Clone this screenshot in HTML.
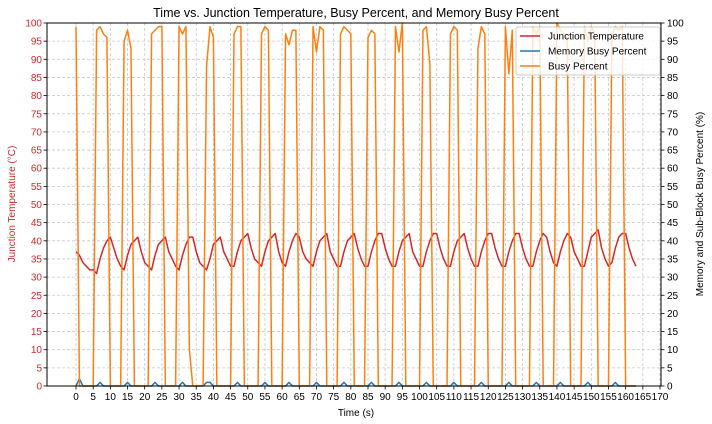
<!DOCTYPE html>
<html><head><meta charset="utf-8"><style>
body{margin:0;background:#fff;}
svg{display:block;font-family:"Liberation Sans","DejaVu Sans",sans-serif;}
</style></head><body>
<svg id="chart" width="712" height="424"></svg>
<script>
const temperature = [37,36,34,33,32,32,
31,35,38,40,41,38,35,33,
32,36,39,40,41,37,34,33,
32,36,39,40,41,37,35,33,
32,36,39,41,41,37,34,33,
32,35,39,40,41,37,35,33,
33,37,40,41,42,38,35,34,
33,37,40,41,42,37,34,
33,37,40,42,41,37,35,34,
33,37,40,41,42,37,35,33,
33,37,40,41,42,38,35,33,
33,37,40,42,42,38,35,33,
33,37,40,41,42,37,35,33,
33,37,40,42,42,38,35,33,
33,37,40,41,42,38,35,33,
33,37,40,42,42,38,35,33,
33,37,40,42,42,38,35,33,
33,37,40,42,41,37,34,
33,37,40,42,41,37,35,33,
33,37,41,42,43,38,35,33,
34,38,41,42,42,38,35,33];
const busy = [99,0,0,0,0,0,
98,99,97,96,0,0,0,0,
95,98,93,0,0,0,0,0,
97,98,99,99,0,0,0,0,
99,97,99,10,0,0,0,0,
88,99,96,0,0,0,0,0,
97,99,99,0,0,0,0,0,
97,99,98,0,0,0,0,
97,94,98,98,0,0,0,0,
99,92,99,98,0,0,0,0,
97,99,98,97,0,0,0,0,
96,98,97,0,0,0,0,0,
99,92,100,0,0,0,0,0,
98,99,89,0,0,0,0,0,
97,99,98,0,0,0,0,0,
93,99,97,0,0,0,0,0,
99,86,98,0,0,0,0,0,
99,97,99,0,0,0,0,
100,98,97,96,0,0,0,0,
99,95,99,97,0,0,0,0,
97,99,98,99,0,0,0,0];
const memBusy = [0,2,0,0,0,0,
0,1,0,0,0,0,0,0,
0,1,0,0,0,0,0,0,
0,1,0,0,0,0,0,0,
0,1,0,0,0,0,0,0,
1,1,0,0,0,0,0,0,
0,1,0,0,0,0,0,0,
0,1,0,0,0,0,0,
0,1,0,0,0,0,0,0,
0,1,0,0,0,0,0,0,
0,1,0,0,0,0,0,0,
0,1,0,0,0,0,0,0,
0,1,0,0,0,0,0,0,
0,1,0,0,0,0,0,0,
0,1,0,0,0,0,0,0,
0,1,0,0,0,0,0,0,
0,1,0,0,0,0,0,0,
0,1,0,0,0,0,0,
0,1,0,0,0,0,0,0,
0,1,0,0,0,0,0,0,
0,1,0,0,0,0,0,0];
const xTicks = [0,5,10,15,20,25,30,35,40,45,50,55,60,65,70,75,80,85,90,95,100,105,110,115,120,125,130,135,140,145,150,155,160,165,170];
const yTicks = [0,5,10,15,20,25,30,35,40,45,50,55,60,65,70,75,80,85,90,95,100];

const L=47,R=661,T=23,B=386;
const x=t=>76+t*(660-76)/170;
const y=v=>B-v*(B-T)/100;
const svg=document.getElementById('chart');
const NS='http://www.w3.org/2000/svg';
function mk(tag,attrs,parent){const e=document.createElementNS(NS,tag);for(const k in attrs)e.setAttribute(k,attrs[k]);(parent||svg).appendChild(e);return e;}
function txt(s,attrs){const e=mk('text',attrs);e.textContent=s;return e;}

const grid=mk('g',{});


xTicks.forEach(t=>{mk('line',{x1:x(t),x2:x(t),y1:T,y2:B,stroke:'#c8c8c8','stroke-width':0.8,'stroke-dasharray':'3,2'},grid);});
yTicks.forEach(v=>{mk('line',{x1:L,x2:R,y1:y(v),y2:y(v),stroke:'#c8c8c8','stroke-width':0.8,'stroke-dasharray':'3,2'},grid);});

function series(arr,color,name){
  const pts=arr.map((v,i)=>x(i).toFixed(2)+','+y(v).toFixed(2)).join(' ');
  const p=mk('polyline',{points:pts,fill:'none',stroke:color,'stroke-width':1.5,'stroke-linejoin':'round'});
  
  
}
series(temperature,'#d62728','junction-temperature-line');
series(memBusy,'#1f77b4','memory-busy-line');
series(busy,'#ff7f0e','busy-percent-line');

mk('rect',{x:L,y:T,width:R-L,height:B-T,fill:'none',stroke:'#000','stroke-width':1});

xTicks.forEach(t=>{
  mk('line',{x1:x(t),x2:x(t),y1:B,y2:B+3.5,stroke:'#000','stroke-width':0.8});
  const e=txt(String(t),{x:x(t),y:B+14,'font-size':10,'text-anchor':'middle',fill:'#000'});
  
  
});
yTicks.forEach(v=>{
  mk('line',{x1:L-3.5,x2:L,y1:y(v),y2:y(v),stroke:'#000','stroke-width':0.8});
  mk('line',{x1:R,x2:R+3.5,y1:y(v),y2:y(v),stroke:'#000','stroke-width':0.8});
  const a=txt(String(v),{x:L-5,y:y(v)+3.5,'font-size':10,'text-anchor':'end',fill:'#d62728'});
  
  
  const b=txt(String(v),{x:R+6,y:y(v)+3.5,'font-size':10,'text-anchor':'start',fill:'#000'});
  
  
});
</script>
<svg style="position:absolute;left:0;top:0" width="712" height="424">
<text x="356" y="17" font-size="12.5" text-anchor="middle" font-family="Liberation Sans, sans-serif">Time vs. Junction Temperature, Busy Percent, and Memory Busy Percent</text>
<text x="356" y="416" font-size="10" text-anchor="middle" font-family="Liberation Sans, sans-serif">Time (s)</text>
<text transform="translate(15,204) rotate(-90)" font-size="10" text-anchor="middle" fill="#d62728" font-family="Liberation Sans, sans-serif">Junction Temperature (°C)</text>
<text transform="translate(703,204) rotate(-90)" font-size="10" text-anchor="middle" font-family="Liberation Sans, sans-serif">Memory and Sub-Block Busy Percent (%)</text>
<g font-family="Liberation Sans, sans-serif" font-size="10">
<rect x="516" y="27" width="144" height="48" rx="2" fill="#fff" fill-opacity="0.8" stroke="#ccc"/>
<line x1="520" x2="540" y1="36" y2="36" stroke="#d62728" stroke-width="1.5"/>
<text x="548" y="39.5">Junction Temperature</text>
<line x1="520" x2="540" y1="51" y2="51" stroke="#1f77b4" stroke-width="1.5"/>
<text x="548" y="54.5">Memory Busy Percent</text>
<line x1="520" x2="540" y1="66" y2="66" stroke="#ff7f0e" stroke-width="1.5"/>
<text x="548" y="69.5">Busy Percent</text>
</g>
</svg>
</body></html>
